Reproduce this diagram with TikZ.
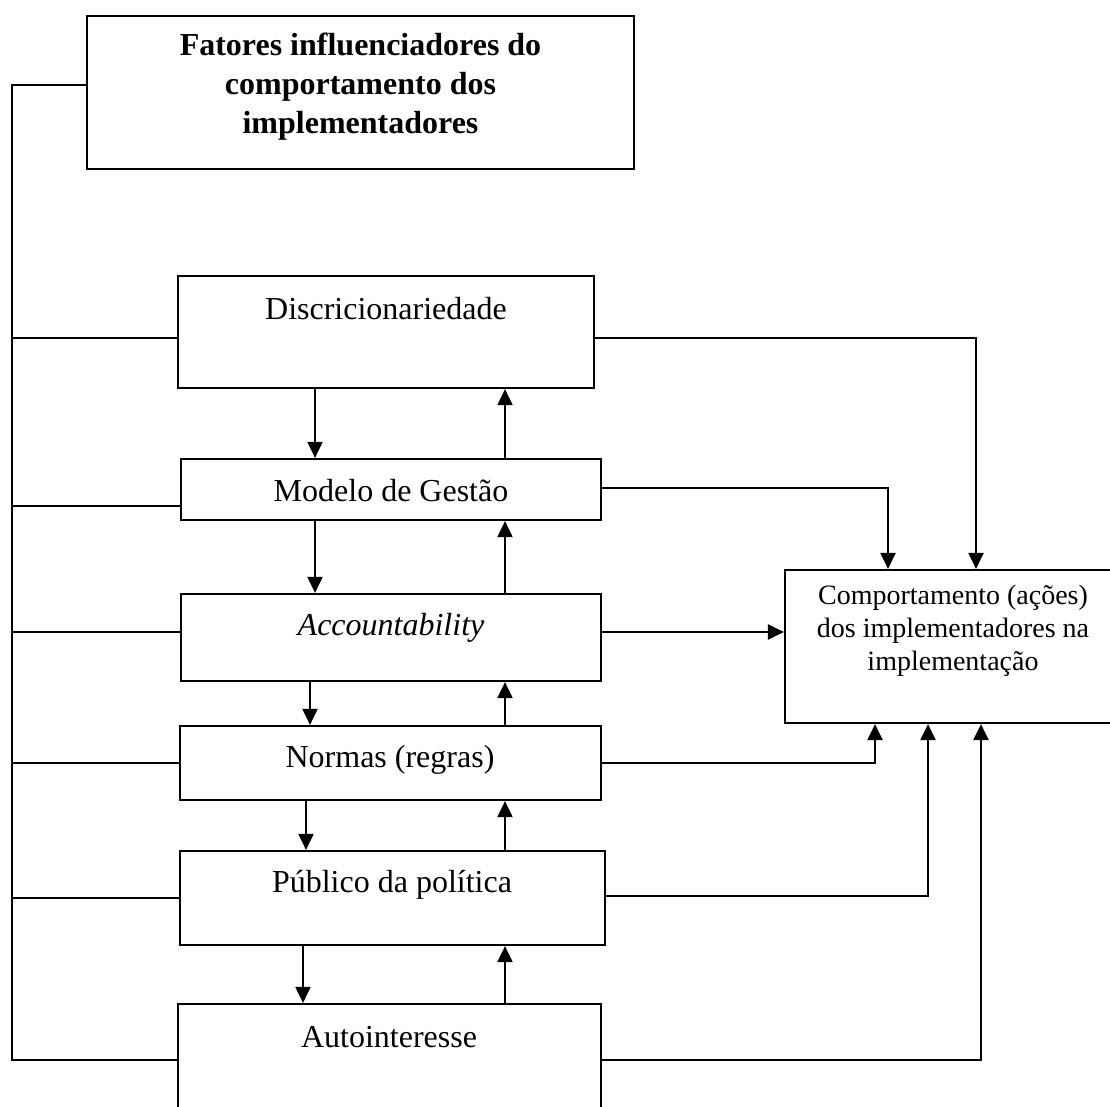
\documentclass[tikz,border=0pt]{standalone}
\usepackage{fontspec}
\setmainfont{Liberation Serif}
\usetikzlibrary{arrows.meta}
\begin{document}
\begin{tikzpicture}[x=1pt,y=-1pt,
  box/.style={draw, line width=2.2pt, inner sep=0pt},
  lbl/.style={font=\fontsize{32}{38}\selectfont, inner sep=0pt},
  conn/.style={line width=2.2pt},
  arr/.style={line width=2.2pt, -{Triangle[length=16pt,width=15pt]}},
  varr/.style={line width=2pt, -{Triangle[length=16pt,width=15pt]}}]
\useasboundingbox (0,0) rectangle (1110,1107);
% boxes
\node[box, minimum width=547pt, minimum height=153pt] (title) at (360.5,92.5) {};
\node[box, minimum width=416pt, minimum height=112pt] (disc) at (386,332) {};
\node[box, minimum width=420pt, minimum height=61pt] (mod) at (391,489.5) {};
\node[box, minimum width=420pt, minimum height=87pt] (acc) at (391,637.5) {};
\node[box, minimum width=421pt, minimum height=74pt] (norm) at (390.5,763) {};
\node[box, minimum width=425pt, minimum height=94pt] (pub) at (392.5,898) {};
\node[box, minimum width=423pt, minimum height=130pt] (auto) at (389.5,1069) {};
\node[box, minimum width=335pt, minimum height=153pt] (rb) at (952.5,646.5) {};
% texts
\node[inner sep=0pt, align=center, font=\fontsize{32}{39}\selectfont\bfseries] (ttxt) at (360.5,87) {Fatores influenciadores do\\comportamento dos\\implementadores};
\node[lbl] (tdisc) at (386,309) {Discricionariedade};
\node[lbl] (tmod) at (391,491) {Modelo de Gestão};
\node[lbl] (tacc) at (391,628) {\itshape Accountability};
\node[lbl] (tnorm) at (390,760) {Normas (regras)};
\node[lbl] (tpub) at (392,885) {Público da política};
\node[lbl] (tauto) at (389,1037) {Autointeresse};
\node[inner sep=0pt, align=center, font=\fontsize{28}{33}\selectfont] (trb) at (953,631) {Comportamento (ações)\\dos implementadores na\\implementação};
% reference coordinates
\coordinate (bus) at (12,0);
\coordinate (yT) at (0,85);
\coordinate (yD) at (0,338);
\coordinate (yM) at (0,506);
\coordinate (yAc) at (0,632);
\coordinate (yN) at (0,763);
\coordinate (yP) at (0,898);
\coordinate (yA) at (0,1060);
\coordinate (yMr) at (0,488);
\coordinate (yNr) at (0,763);
\coordinate (yPr) at (0,896);
\coordinate (xD) at (976,0);
\coordinate (xM) at (888,0);
\coordinate (xN) at (875,0);
\coordinate (xP) at (928,0);
\coordinate (xA) at (981,0);
\coordinate (xup) at (505,0);
\coordinate (xd1) at (315,0);
\coordinate (xd2) at (315,0);
\coordinate (xd3) at (310,0);
\coordinate (xd4) at (306,0);
\coordinate (xd5) at (303,0);
% left bus
\draw[conn] (title.west |- yT) -- (bus |- yT) -- (bus |- yA) -- (auto.west |- yA);
\draw[conn] (bus |- yD) -- (disc.west |- yD);
\draw[conn] (bus |- yM) -- (mod.west |- yM);
\draw[conn] (bus |- yAc) -- (acc.west |- yAc);
\draw[conn] (bus |- yN) -- (norm.west |- yN);
\draw[conn] (bus |- yP) -- (pub.west |- yP);
% vertical arrows between boxes
\draw[varr] (disc.south -| xd1) -- (mod.north -| xd1);
\draw[varr] (mod.north -| xup) -- (disc.south -| xup);
\draw[varr] (mod.south -| xd2) -- (acc.north -| xd2);
\draw[varr] (acc.north -| xup) -- (mod.south -| xup);
\draw[varr] (acc.south -| xd3) -- (norm.north -| xd3);
\draw[varr] (norm.north -| xup) -- (acc.south -| xup);
\draw[varr] (norm.south -| xd4) -- (pub.north -| xd4);
\draw[varr] (pub.north -| xup) -- (norm.south -| xup);
\draw[varr] (pub.south -| xd5) -- (auto.north -| xd5);
\draw[varr] (auto.north -| xup) -- (pub.south -| xup);
% connectors to the right box
\draw[arr] (disc.east |- yD) -| (rb.north -| xD);
\draw[arr] (mod.east |- yMr) -| (rb.north -| xM);
\draw[arr] (acc.east |- yAc) -- (rb.west |- yAc);
\draw[arr] (norm.east |- yNr) -| (rb.south -| xN);
\draw[arr] (pub.east |- yPr) -| (rb.south -| xP);
\draw[arr] (auto.east |- yA) -| (rb.south -| xA);
\end{tikzpicture}
\end{document}
